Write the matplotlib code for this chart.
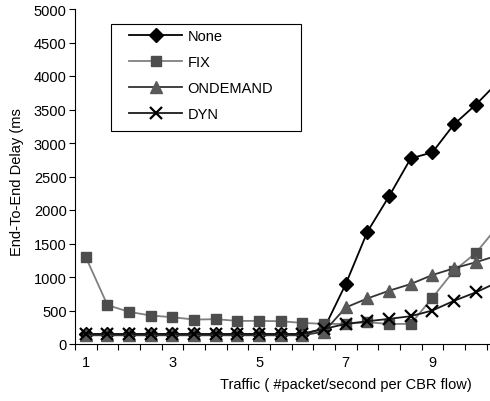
import matplotlib
matplotlib.use("Agg")
import matplotlib.pyplot as plt
from matplotlib.patches import Rectangle
from matplotlib.ticker import FixedLocator, NullFormatter

plt.rcParams["font.family"] = ["Liberation Sans", "DejaVu Sans"]

# traffic levels (packets/second per CBR flow)
traffic = [1, 1.5, 2, 2.5, 3, 3.5, 4, 4.5, 5, 5.5, 6, 6.5, 7, 7.5, 8, 8.5, 9, 9.5, 10, 10.5]

none_delay = [150, 150, 150, 150, 150, 150, 150, 150, 150, 150, 150, 230,
              895, 1675, 2205, 2770, 2860, 3280, 3570, 3900]
fix_delay = [1295, 580, 480, 425, 400, 365, 370, 345, 345, 340, 315, 300,
             300, 325, 300, 300, 690, 1095, 1355, 1750]
ondemand_delay = [130, 130, 130, 130, 130, 130, 130, 130, 130, 130, 130, 185,
                  545, 680, 795, 895, 1030, 1130, 1220, 1320]
dyn_delay = [150, 150, 150, 150, 150, 150, 150, 150, 150, 150, 150, 225,
             300, 340, 375, 415, 500, 645, 770, 920]

x_ticks = [1, 3, 5, 7, 9]
y_ticks = list(range(0, 5001, 500))

fig = plt.figure(figsize=(4.9, 4.02), dpi=100)
ax = fig.add_axes([75 / 490, 57 / 402, 1 - 75 / 490, 335 / 402])

ax.plot(traffic, none_delay, color="black", lw=1.3, marker="D", ms=7,
        mfc="black", mec="black", label="None")
ax.plot(traffic, fix_delay, color="#808080", lw=1.3, marker="s", ms=7,
        mfc="#4d4d4d", mec="#4d4d4d", label="FIX")
ax.plot(traffic, ondemand_delay, color="#333333", lw=1.3, marker="^", ms=8,
        mfc="#595959", mec="#595959", label="ONDEMAND")
ax.plot(traffic, dyn_delay, color="#1a1a1a", lw=1.3, marker="x", ms=8,
        mew=1.6, mec="black", label="DYN")

ax.set_xlim(0.75, 10.33)
ax.set_ylim(0, 5000)
ax.set_yticks(y_ticks)
# tick marks between categories, labels on every 4th category
ax.xaxis.set_major_locator(FixedLocator([t - 0.25 for t in traffic] + [10.75]))
ax.xaxis.set_major_formatter(NullFormatter())
ax.xaxis.set_minor_locator(FixedLocator(x_ticks))
ax.set_xticklabels([str(t) for t in x_ticks], minor=True)
ax.tick_params(axis="x", which="major", direction="out", length=4, width=0.8)
ax.tick_params(axis="x", which="minor", length=0, pad=8, labelsize=10.5)
ax.tick_params(axis="y", direction="out", length=4, width=0.8, labelsize=10.5, pad=2)
for side in ("top", "right"):
    ax.spines[side].set_visible(False)
for side in ("left", "bottom"):
    ax.spines[side].set_linewidth(0.8)

fig.text(346 / 490, 1 - 385 / 402, "Traffic ( #packet/second per CBR flow)",
         ha="center", va="center", fontsize=10.5)
fig.text(17 / 490, 1 - 182 / 402, "End-To-End Delay (ms", rotation=90,
         ha="center", va="center", fontsize=10.5)

# legend frame drawn separately (wider than the entries, as in the original)
fig.patches.append(Rectangle((111 / 490, 1 - 132 / 402), 190 / 490, 107 / 402,
                             transform=fig.transFigure, fill=False,
                             edgecolor="black", linewidth=0.8))
ax.legend(loc="upper left", bbox_to_anchor=(125 / 490, 1 - 26 / 402),
          bbox_transform=fig.transFigure, frameon=False, fontsize=10.5,
          handlelength=3.6, handletextpad=0.4, labelspacing=0.82,
          borderpad=0.3, borderaxespad=0)

fig.savefig("out.png", dpi=100)
